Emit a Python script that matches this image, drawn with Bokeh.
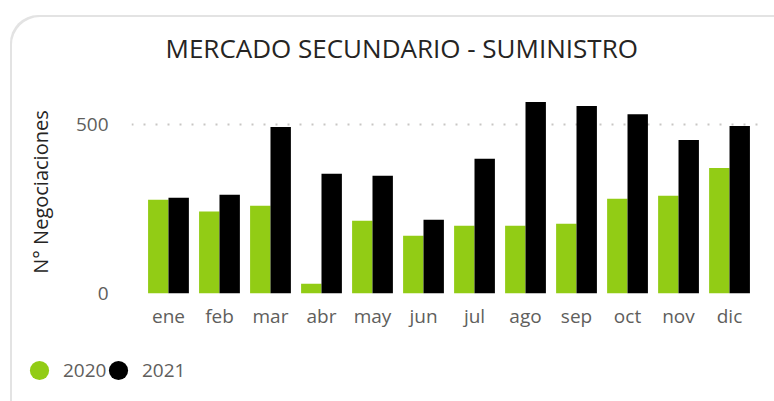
from bokeh.plotting import figure
from bokeh.layouts import column
from bokeh.models import (ColumnDataSource, FactorRange, Range1d, FixedTicker,
                          Legend, LegendItem, Title)
from bokeh.transform import dodge
from bokeh.embed import file_html
from bokeh.resources import INLINE

# ---- data ----
months = ["ene", "feb", "mar", "abr", "may", "jun", "jul", "ago", "sep", "oct", "nov", "dic"]
values_2020 = [277, 242, 259, 29, 215, 171, 200, 200, 206, 280, 289, 371]
values_2021 = [283, 292, 492, 354, 348, 218, 398, 566, 554, 530, 454, 495]
series_labels = ["2020", "2021"]
y_ticks = [0, 500]

GREEN = "#92CC15"
BLACK = "#000000"
FONT = "Open Sans"
GRAY_TXT = "#605E5C"
DARK_TXT = "#252423"

source = ColumnDataSource(dict(month=months, v2020=values_2020, v2021=values_2021))

p = figure(
    x_range=FactorRange(*months, range_padding=0.225, range_padding_units="absolute"),
    y_range=Range1d(0, 600),
    width=764, height=316,
    output_backend="svg", toolbar_location=None,
    min_border_left=121, min_border_right=8, min_border_top=75, min_border_bottom=37,
    outline_line_color=None, border_fill_color=None,
)
p.frame_align = False

p.vbar(x=dodge("month", -0.2, range=p.x_range), top="v2020", width=0.4,
       source=source, fill_color=GREEN, line_color=None)
p.vbar(x=dodge("month", 0.2, range=p.x_range), top="v2021", width=0.4,
       source=source, fill_color=BLACK, line_color=None)

# title (outermost) + small spacer between title and plot area
p.title.text = "MERCADO SECUNDARIO - SUMINISTRO"
p.title.align = "left"
p.title.offset = 34
p.title.standoff = 0
p.title.text_font = FONT
p.title.text_font_size = "26px"
p.title.text_font_style = "normal"
p.title.text_color = DARK_TXT
p.add_layout(Title(text=" ", text_font_size="1px", standoff=22), "above")

# axes
p.xaxis.axis_line_color = None
p.xaxis.major_tick_line_color = None
p.xaxis.minor_tick_line_color = None
p.xaxis.major_label_standoff = 3
p.xaxis.major_label_text_font = FONT
p.xaxis.major_label_text_font_size = "19px"
p.xaxis.major_label_text_color = GRAY_TXT

p.yaxis.ticker = FixedTicker(ticks=y_ticks)
p.yaxis.axis_line_color = None
p.yaxis.major_tick_line_color = None
p.yaxis.minor_tick_line_color = None
p.yaxis.major_label_standoff = 17
p.yaxis.major_label_text_font = FONT
p.yaxis.major_label_text_font_size = "19px"
p.yaxis.major_label_text_color = GRAY_TXT
p.yaxis.axis_label = "N° Negociaciones"
p.yaxis.axis_label_text_font = FONT
p.yaxis.axis_label_text_font_size = "20px"
p.yaxis.axis_label_text_font_style = "normal"
p.yaxis.axis_label_text_color = DARK_TXT
p.yaxis.axis_label_standoff = 19

p.xgrid.grid_line_color = None
p.ygrid.grid_line_color = "#C8C6C4"
p.ygrid.grid_line_width = 2
p.ygrid.grid_line_dash = "2 10"

# ---- legend strip (own small figure so the legend can sit left of the plot area) ----
lf = figure(width=764, height=70, output_backend="svg", toolbar_location=None,
            x_axis_location=None, y_axis_location=None,
            x_range=Range1d(1, 2), y_range=Range1d(1, 2),
            min_border=0, outline_line_color=None,
            border_fill_color=None, background_fill_color=None)
lf.frame_align = False
lf.grid.visible = False
# legend proxies: one point each, outside the visible range of the strip
proxy = ColumnDataSource(dict(x=[0], y=[0]))
m20 = lf.scatter(x="x", y="y", source=proxy, marker="circle", fill_color=GREEN, line_color=None)
m21 = lf.scatter(x="x", y="y", source=proxy, marker="circle", fill_color=BLACK, line_color=None)

legend_style = dict(orientation="horizontal", glyph_width=48, glyph_height=48,
                    label_standoff=0, spacing=0, padding=0, margin=0,
                    border_line_color=None, background_fill_alpha=0,
                    label_text_font=FONT, label_text_font_size="19px",
                    label_text_color=GRAY_TXT)
leg1 = Legend(items=[LegendItem(label=series_labels[0], renderers=[m20])],
              location=(5, 7), **legend_style)
leg2 = Legend(items=[LegendItem(label=series_labels[1], renderers=[m21])],
              location=(84, 7), **legend_style)
lf.add_layout(leg1, "center")
lf.add_layout(leg2, "center")

layout = column(p, lf)
layout.margin = (15, 0, 0, 10)
# card border (top-left edges of the rounded card)
layout.styles = {"box-shadow": "inset 2px 2px 0 0 #E3E3E3", "border-top-left-radius": "28px"}

open("out.html", "w").write(file_html(layout, INLINE))
